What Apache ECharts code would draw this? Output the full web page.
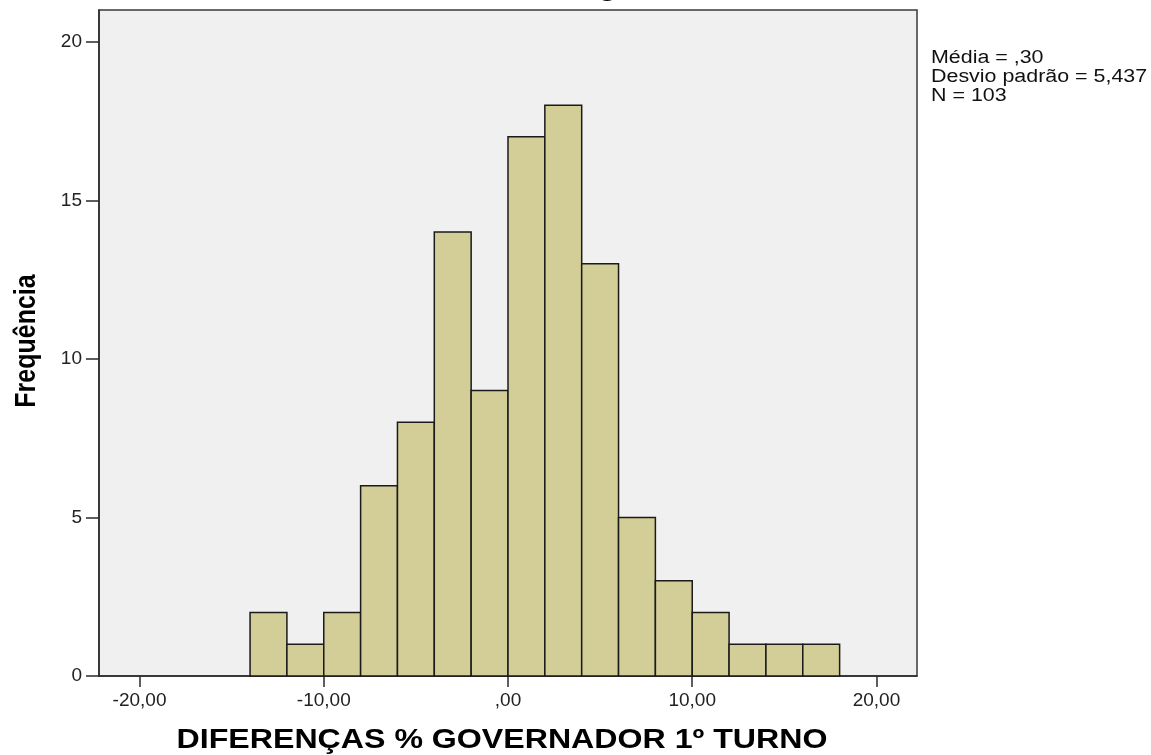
<!DOCTYPE html>
<html><head><meta charset="utf-8">
<script src="https://cdn.jsdelivr.net/npm/echarts@6/dist/echarts.min.js"></script>
<style>html,body{margin:0;padding:0;background:#fff}#c{width:1151px;height:755px}</style>
</head><body><div id="c"></div>
<script>
// ---- data ----
const binStarts = [-14, -12, -10, -8, -6, -4, -2, 0, 2, 4, 6, 8, 10, 12, 14, 16];
const binWidth = 2;
const frequencies = [2, 1, 2, 6, 8, 14, 9, 17, 18, 13, 5, 3, 2, 1, 1, 1];
const xTicks = [-20, -10, 0, 10, 20];
const yTicks = [0, 5, 10, 15, 20];
const statsLines = ['Média = ,30', 'Desvio padrão = 5,437', 'N = 103'];
const titleText = 'Histograma';
const xName = 'DIFERENÇAS % GOVERNADOR 1º TURNO';
const yName = 'Frequência';

function fmtX(v) {
  if (v === 0) return ',00';
  return v.toFixed(2).replace('.', ',');
}

const histData = binStarts.map((s, i) => [s, s + binWidth, frequencies[i]]);

const chart = echarts.init(document.getElementById('c'), null, { renderer: 'canvas' });
const FONT = 'Liberation Sans, Arial, sans-serif';
const option = {
  animation: false,
  backgroundColor: '#ffffff',
  grid: {
    left: 99, right: 234, top: 10, bottom: 79,
    show: true, backgroundColor: '#f0f0f0', borderColor: '#3a3a3a', borderWidth: 1.5
  },
  xAxis: {
    type: 'value', min: -22.2, max: 22.2,
    axisLine: { show: true, onZero: false, lineStyle: { color: '#2a2a2a', width: 1.5 } },
    axisTick: { show: true, customValues: xTicks, length: 11, lineStyle: { color: '#2a2a2a', width: 1.5 } },
    axisLabel: { customValues: xTicks, formatter: fmtX, fontSize: 19, fontFamily: FONT, color: '#222', margin: 15 },
    splitLine: { show: false }
  },
  yAxis: {
    type: 'value', min: 0, max: 21,
    axisLine: { show: true, onZero: false, lineStyle: { color: '#2a2a2a', width: 1.5 } },
    axisTick: { show: true, customValues: yTicks, length: 13, lineStyle: { color: '#2a2a2a', width: 1.5 } },
    axisLabel: { customValues: yTicks, fontSize: 19, fontFamily: FONT, color: '#222', margin: 17 },
    splitLine: { show: false }
  },
  graphic: [
    { type: 'text', x: 606, y: 1, style: { text: titleText, font: 'bold 27px ' + FONT, textAlign: 'center', textVerticalAlign: 'bottom', fill: '#000' }, scaleX: 1.19 },
    { type: 'text', x: 502, y: 741, scaleX: 1.19, style: { text: xName, font: 'bold 27px ' + FONT, textAlign: 'center', textVerticalAlign: 'middle', fill: '#000' } },
    { type: 'text', x: 27, y: 341, rotation: Math.PI / 2, scaleY: 1.19, style: { text: yName, font: 'bold 25px ' + FONT, textAlign: 'center', textVerticalAlign: 'middle', fill: '#000' } },
    { type: 'text', x: 931, y: 49, scaleX: 1.19, style: { text: statsLines.join('\n'), font: '18px ' + FONT, lineHeight: 19, textAlign: 'left', textVerticalAlign: 'top', fill: '#111' } }
  ],
  series: [{
    type: 'custom',
    encode: { x: [0, 1], y: 2 },
    data: histData,
    renderItem: function (params, api) {
      const p0 = api.coord([api.value(0), api.value(2)]);
      const p1 = api.coord([api.value(1), 0]);
      return {
        type: 'rect',
        shape: { x: p0[0], y: p0[1], width: p1[0] - p0[0], height: p1[1] - p0[1] },
        style: { fill: '#d3ce97', stroke: '#1a1a1a', lineWidth: 1.5 }
      };
    }
  }]
};
chart.setOption(option);
</script>
</body></html>
